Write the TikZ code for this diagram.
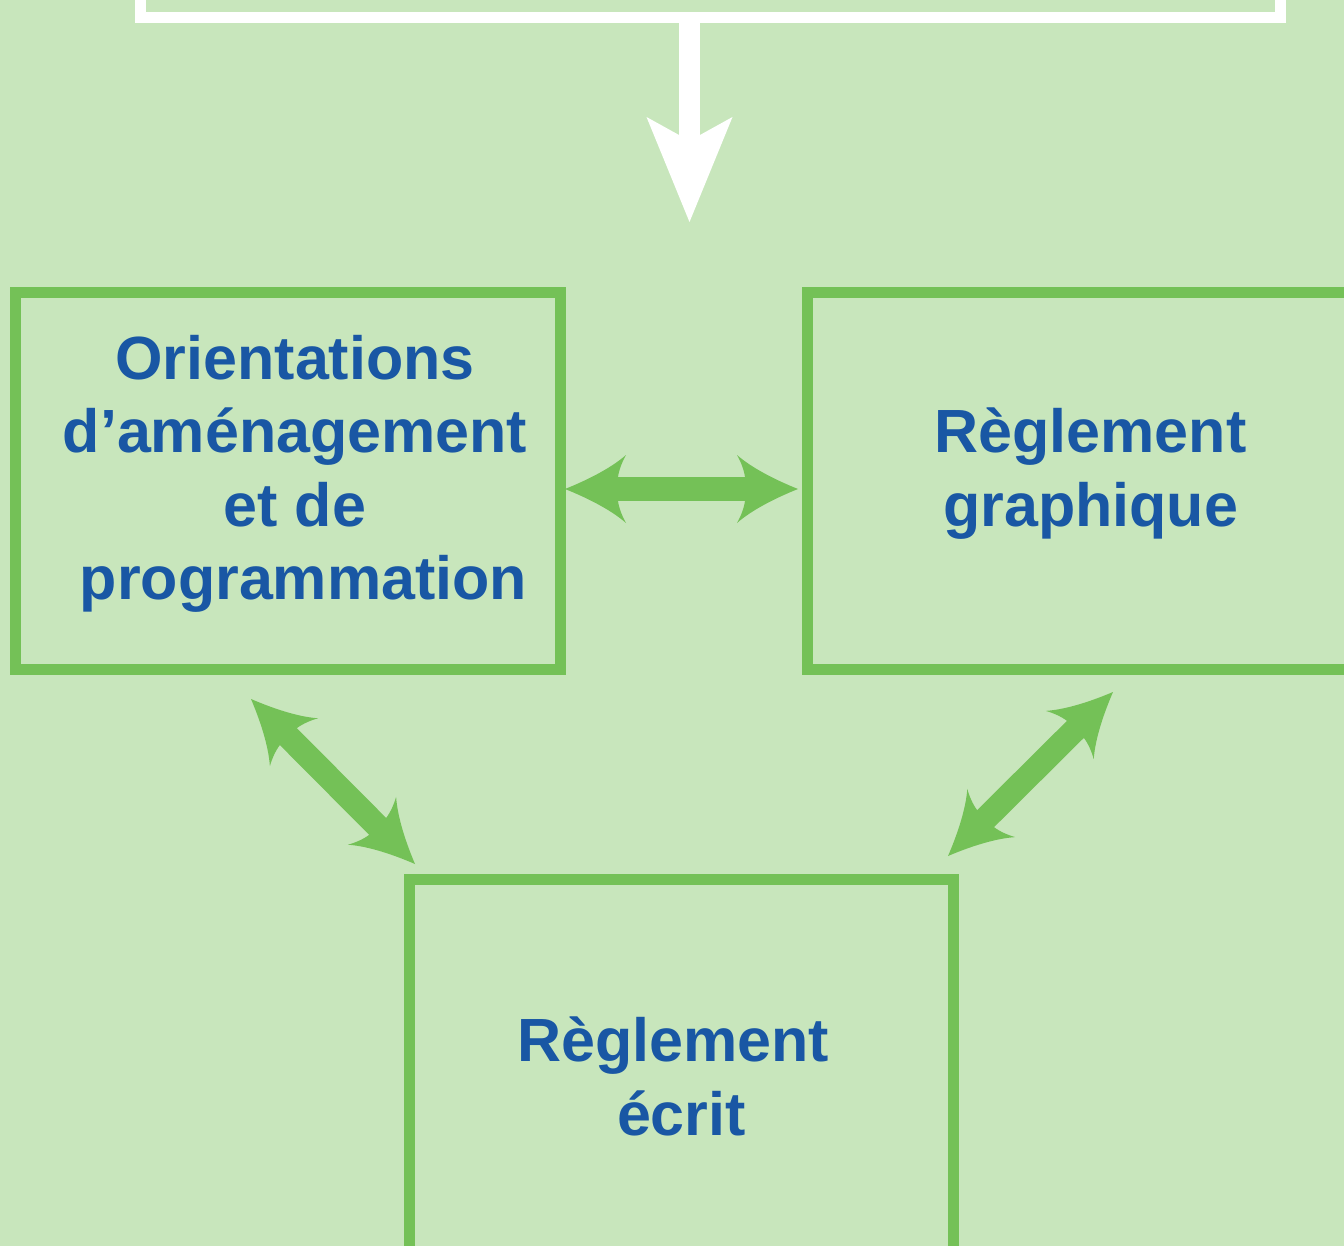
\documentclass[tikz,border=0pt]{standalone}
\usepackage{fontspec}
\setmainfont{Liberation Sans}
\definecolor{bg}{HTML}{C8E6BC}
\definecolor{gr}{HTML}{74C157}
\definecolor{bl}{HTML}{1957A4}
\pgfdeclarearrow{
  name = Curvy,
  setup code = {
    \pgfarrowssettipend{0pt}
    \pgfarrowssetlineend{-48pt}
    \pgfarrowssetbackend{-61pt}
    \pgfarrowshullpoint{0pt}{0pt}
    \pgfarrowshullpoint{-61pt}{34pt}
    \pgfarrowshullpoint{-61pt}{-34pt}
  },
  drawing code = {
    \pgfpathmoveto{\pgfpoint{0pt}{0pt}}
    \pgfpathcurveto{\pgfpoint{-20pt}{8pt}}{\pgfpoint{-45pt}{20pt}}{\pgfpoint{-61pt}{34pt}}
    \pgfpathcurveto{\pgfpoint{-57pt}{27pt}}{\pgfpoint{-54pt}{19pt}}{\pgfpoint{-53pt}{12pt}}
    \pgfpathlineto{\pgfpoint{-53pt}{-12pt}}
    \pgfpathcurveto{\pgfpoint{-54pt}{-19pt}}{\pgfpoint{-57pt}{-27pt}}{\pgfpoint{-61pt}{-34pt}}
    \pgfpathcurveto{\pgfpoint{-45pt}{-20pt}}{\pgfpoint{-20pt}{-8pt}}{\pgfpoint{0pt}{0pt}}
    \pgfpathclose
    \pgfusepathqfill
  }
}
\pgfdeclarearrow{
  name = WhiteHead,
  setup code = {
    \pgfarrowssettipend{0pt}
    \pgfarrowssetlineend{-80pt}
    \pgfarrowssetbackend{-105pt}
    \pgfarrowshullpoint{0pt}{0pt}
    \pgfarrowshullpoint{-105pt}{43pt}
    \pgfarrowshullpoint{-105pt}{-43pt}
  },
  drawing code = {
    \pgfpathmoveto{\pgfpoint{0pt}{0pt}}
    \pgfpathlineto{\pgfpoint{-105pt}{43pt}}
    \pgfpathlineto{\pgfpoint{-87pt}{10.5pt}}
    \pgfpathlineto{\pgfpoint{-87pt}{-10.5pt}}
    \pgfpathlineto{\pgfpoint{-105pt}{-43pt}}
    \pgfpathclose
    \pgfusepathqfill
  }
}
\begin{document}
\begin{tikzpicture}[x=1pt,y=-1pt,
  boxstyle/.style={draw=gr,line width=11pt,inner sep=0pt,outer sep=0pt},
  topbox/.style={draw=white,line width=11pt,inner sep=0pt,outer sep=0pt},
  lbl/.style={text=bl,font=\fontsize{61}{73.5}\selectfont\bfseries,align=center,inner sep=0pt,anchor=base},
  link/.style={gr,line width=24pt,arrows=Curvy-Curvy},
  downarrow/.style={white,line width=21pt,arrows=-WhiteHead}]
\useasboundingbox (0,0) rectangle (1344,1246);
\clip (0,0) rectangle (1344,1246);
\fill[bg] (0,0) rectangle (1344,1246);
% boxes
\node[topbox, minimum width=1140pt, minimum height=300pt] (top) at (710.5,-132.5) {};
\node[boxstyle, minimum width=545pt, minimum height=377pt] (oap) at (288,481) {};
\node[boxstyle, minimum width=566pt, minimum height=377pt] (rg) at (1090.5,481) {};
\node[boxstyle, minimum width=544pt, minimum height=377pt] (re) at (681.5,1068) {};
% texts (anchor base = baseline of the last line)
\node[lbl] (toap) at (295,599.5) {Orientations\\d’aménagement\\et de\\\hspace*{0.278em}programmation};
\node[lbl] (trg) at (1090.5,526) {Règlement\\graphique};
\node[lbl] (tre) at (681.5,1135) {Règlement\hspace*{0.278em}\\écrit};
% connectors
\coordinate (wtip) at (689.5,222);
\draw[downarrow] (wtip |- top.south) -- (wtip);
\coordinate (h1) at (565,489);
\coordinate (h2) at (798,489);
\draw[link] (h1) -- (h2);
\coordinate (d1) at (251,699);
\coordinate (d2) at (415,864);
\draw[link] (d1) -- (d2);
\coordinate (e1) at (1113,692);
\coordinate (e2) at (948,856);
\draw[link] (e1) -- (e2);
\end{tikzpicture}
\end{document}
